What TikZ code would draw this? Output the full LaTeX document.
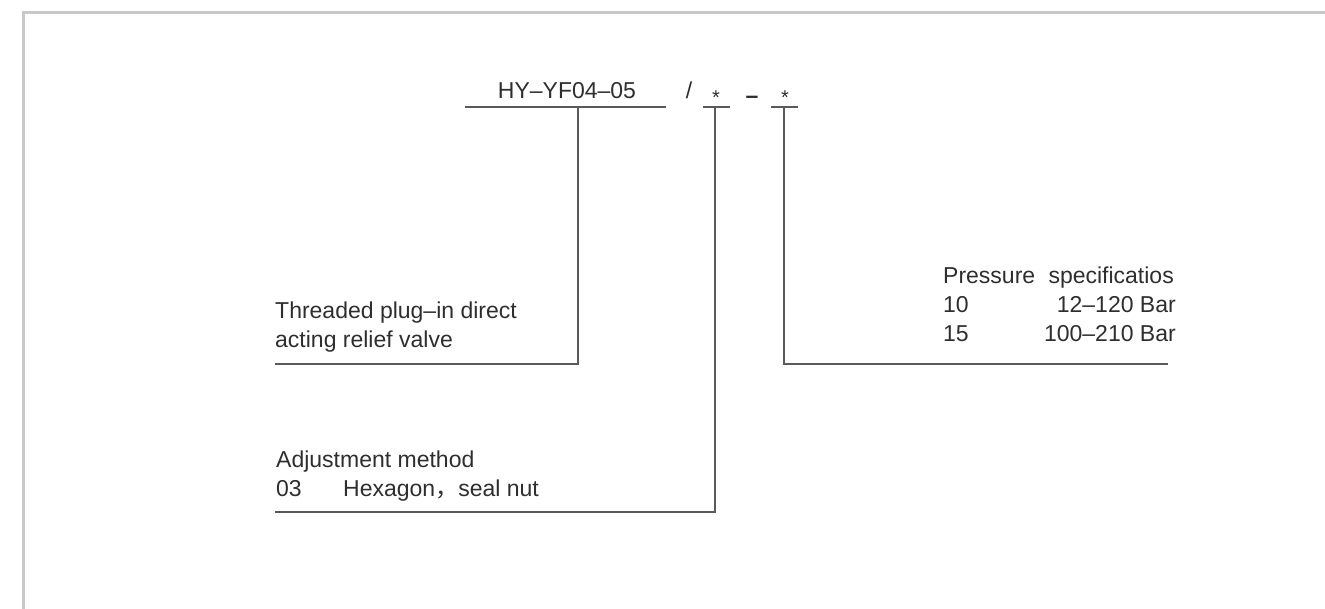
\documentclass[tikz,border=0pt]{standalone}
\usepackage{fontspec}
\setmainfont{Liberation Sans}
\newfontfamily\cjk{Noto Sans CJK SC}
\usetikzlibrary{positioning}
\definecolor{txtgray}{HTML}{2E2E2E}
\definecolor{linegray}{HTML}{5A5A5A}
\definecolor{framegray}{HTML}{C8C8C8}

\begin{document}
\begin{tikzpicture}[
	x=1pt,y=-1pt,
	lbl/.style={anchor=base west,inner sep=0pt,text=txtgray,font=\fontsize{23}{26}\selectfont},
	code/.style={anchor=base,inner sep=0pt,text=txtgray,font=\fontsize{23}{26}\selectfont},
	ldr/.style={draw=linegray,line width=1.3pt}
	]
	\useasboundingbox (0,0) rectangle (1325,609);
	% frame
	\draw[framegray,line width=2.5pt] (23.5,609) -- (23.5,12.5) -- (1325,12.5);
	% model code
	\node[code] (model) at (567,99) {HY--YF04--05};
	\node[code] (slash) at (689,99) {/};
	\node[code,font=\fontsize{20}{24}\selectfont] (adj) at (716,105) {*};
	\node[code] (dash) at (752,104) {\textbf{--}};
	\node[code,font=\fontsize{20}{24}\selectfont] (prs) at (785,105) {*};
	\coordinate (m1) at (465,107);
	\coordinate (m2) at (666,107);
	\coordinate (mj) at (578,107);
	\coordinate (me) at (275,364);
	\coordinate (a1) at (703,107);
	\coordinate (a2) at (730,107);
	\coordinate (aj) at (715,107);
	\coordinate (ae) at (275,512);
	\coordinate (p1) at (771,107);
	\coordinate (p2) at (798,107);
	\coordinate (pj) at (784,107);
	\coordinate (pe) at (1168,364);
	% descriptions
	\node[lbl] (valve1) at (275,319) {Threaded plug--in direct};
	\node[lbl] (valve2) at (275,348) {acting relief valve};
	\node[lbl] (method) at (276,467) {Adjustment method};
	\node[lbl] (m03) at (276,496) {03};
	\node[lbl] (hex) at (343,496) {Hexagon{\cjk ，}seal nut};
	\node[lbl] (spec) at (943,284) {Pressure\hspace{0.3em} specificatios};
	\node[lbl] (p10) at (943,313) {10};
	\node[lbl,anchor=base east] (r10) at (1176,313) {12--120 Bar};
	\node[lbl] (p15) at (943,342) {15};
	\node[lbl,anchor=base east] (r15) at (1176,342) {100--210 Bar};
	% leaders
	\draw[ldr] (m1) -- (m2);
	\draw[ldr] (mj) |- (me);
	\draw[ldr] (a1) -- (a2);
	\draw[ldr] (aj) |- (ae);
	\draw[ldr] (p1) -- (p2);
	\draw[ldr] (pj) |- (pe);
\end{tikzpicture}
\end{document}
